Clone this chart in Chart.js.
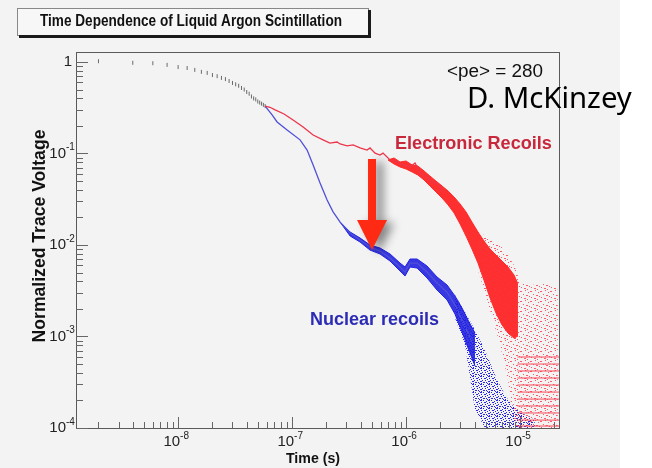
<!DOCTYPE html>
<html>
<head>
<meta charset="utf-8">
<script src="https://cdn.jsdelivr.net/npm/chart.js@4/dist/chart.umd.min.js"></script>
<style>
  html, body { margin: 0; padding: 0; background: #fff; }
  canvas { display: block; }
</style>
</head>
<body>
<canvas id="myChart" width="652" height="468"></canvas>
<script>
// shared early part (2 ns bins), both populations overlap here
const earlyTime = [2e-9, 4e-9, 6e-9, 8e-9, 1.0e-8, 1.2e-8, 1.4e-8, 1.6e-8, 1.8e-8, 2.0e-8, 2.2e-8, 2.4e-8, 2.6e-8, 2.8e-8,
                   3.0e-8, 3.2e-8, 3.4e-8, 3.6e-8, 3.8e-8, 4.0e-8, 4.2e-8, 4.4e-8, 4.6e-8, 4.8e-8, 5.0e-8, 5.2e-8, 5.4e-8, 5.6e-8, 5.8e-8];
const earlyVolt = [1.02, 0.98, 0.97, 0.93, 0.88, 0.86, 0.82, 0.78, 0.76, 0.72, 0.70, 0.67, 0.65, 0.62,
                   0.59, 0.57, 0.55, 0.52, 0.50, 0.47, 0.45, 0.42, 0.40, 0.39, 0.37, 0.36, 0.35, 0.34, 0.33];

// electronic recoils (red)
const erTime = [5.8e-8, 6.4e-8, 7.1e-8, 8.5e-8, 1.02e-7, 1.25e-7, 1.53e-7, 1.87e-7, 2.15e-7, 2.48e-7, 2.64e-7, 3.04e-7, 3.43e-7,
                3.95e-7, 4.55e-7, 4.83e-7, 5.35e-7, 5.91e-7, 6.28e-7, 7.24e-7, 8.34e-7, 9.42e-7, 1.084e-6, 1.2e-6, 1.33e-6,
                1.53e-6, 1.69e-6, 1.87e-6, 2.11e-6];
const erVolt = [0.33, 0.32, 0.30, 0.27, 0.232, 0.195, 0.159, 0.141, 0.130, 0.1336, 0.127, 0.121, 0.124,
                0.115, 0.109, 0.115, 0.101, 0.0963, 0.101, 0.0849, 0.0807, 0.0749, 0.0712, 0.0787, 0.0612,
                0.0554, 0.0489, 0.0476, 0.0380];
const erBandTime = [6.95e-7, 7.85e-7, 8.86e-7, 1.0e-6, 1.13e-6, 1.27e-6, 1.44e-6, 1.62e-6, 1.83e-6, 2.07e-6, 2.34e-6,
                    2.64e-6, 2.98e-6, 3.36e-6, 3.79e-6, 4.28e-6, 4.83e-6, 5.46e-6, 6.15e-6, 6.95e-6, 7.85e-6, 8.86e-6, 9.6e-6];
const erBandHigh = [0.0849, 0.0893, 0.0807, 0.0828, 0.0749, 0.073, 0.0644, 0.0568, 0.05, 0.0442, 0.0389, 0.0335,
                    0.0281, 0.0230, 0.0178, 0.01387, 0.01106, 0.00904, 0.00778, 0.00668, 0.00575, 0.0047, 0.00375];
const erBandLow = [0.0849, 0.0768, 0.0712, 0.0677, 0.0628, 0.0582, 0.0513, 0.0442, 0.038, 0.0326, 0.0274, 0.0224,
                   0.0170, 0.01254, 0.00904, 0.00635, 0.00414, 0.00264, 0.00181, 0.00134, 0.00109, 0.00096, 0.00101];
const erSpreadTime = [4.28e-6, 5.46e-6, 6.68e-6, 7.85e-6, 8.86e-6, 9.22e-6, 1.0e-5, 1.35e-5, 1.83e-5, 2.15e-5];
const erSpreadHigh = [0.0139, 0.0119, 0.0100, 0.00778, 0.0060, 0.00533, 0.00394, 0.00366, 0.00384, 0.00322];
const erSpreadLow = [0.00533, 0.00195, 0.00081, 0.000335, 0.0001, 0.0001, 0.0001, 0.0001, 0.0001, 0.0001];
// single photoelectron levels seen as rows at late times
const erLevels = [5.97e-4, 5.0e-4, 4.2e-4, 3.52e-4, 2.95e-4, 2.47e-4, 2.07e-4, 1.74e-4, 1.46e-4, 1.22e-4, 1.05e-4];
const erLevelTime = [1.0e-5, 1.1e-5, 1.2e-5, 1.32e-5, 1.45e-5, 1.6e-5, 1.75e-5, 1.92e-5, 2.1e-5];

// nuclear recoils (blue)
const nrTime = [5.8e-8, 6.68e-8, 7.39e-8, 9.04e-8, 1.175e-7, 1.355e-7, 1.53e-7, 1.76e-7, 2.03e-7, 2.29e-7, 2.64e-7, 3.23e-7,
                3.95e-7, 4.83e-7, 5.91e-7, 7.24e-7, 8.86e-7, 9.8e-7, 1.084e-6, 1.25e-6, 1.53e-6, 1.87e-6, 2.29e-6,
                2.69e-6, 3.10e-6, 3.50e-6, 4.03e-6];
const nrVolt = [0.33, 0.264, 0.221, 0.181, 0.141, 0.109, 0.0749, 0.0476, 0.031, 0.0230, 0.0178, 0.0135,
                0.01135, 0.0095, 0.0086, 0.0072, 0.00575, 0.00507, 0.00635, 0.00635, 0.00507, 0.00384, 0.00306,
                0.00221, 0.00151, 0.00109, 0.00075];
const nrBandTime = [2.64e-7, 3.23e-7, 3.95e-7, 4.83e-7, 5.91e-7, 7.24e-7, 8.86e-7, 9.8e-7, 1.084e-6, 1.25e-6, 1.53e-6,
                    1.87e-6, 2.29e-6, 2.69e-6, 3.10e-6, 3.50e-6, 4.03e-6];
const nrBandHigh = [0.0178, 0.01387, 0.01193, 0.0100, 0.00927, 0.00798, 0.00635, 0.00575, 0.00703, 0.00703, 0.00589,
                    0.00447, 0.00366, 0.00277, 0.00205, 0.00151, 0.00109];
const nrBandLow = [0.0178, 0.01254, 0.01078, 0.0088, 0.00798, 0.00668, 0.0052, 0.00458, 0.00575, 0.0056, 0.00436,
                   0.00322, 0.00251, 0.00176, 0.00112, 0.00075, 0.000476];
const nrSpreadTime = [2.69e-6, 3.29e-6, 4.03e-6, 4.93e-6, 6.04e-6, 7.38e-6, 8.5e-6, 1.0e-5, 1.35e-5];
const nrSpreadHigh = [0.00284, 0.00185, 0.00118, 0.00071, 0.00038, 0.00023, 0.000178, 0.00015, 0.000122];
const nrSpreadLow = [0.00159, 0.00081, 0.000157, 0.0001, 0.0001, 0.0001, 0.0001, 0.0001, 0.0001];

// axes
const yTicks = [1, 1e-1, 1e-2, 1e-3, 1e-4];
const yTickLabels = [["1", ""], ["10", "-1"], ["10", "-2"], ["10", "-3"], ["10", "-4"]];
const xTicks = [1e-8, 1e-7, 1e-6, 1e-5];
const xTickLabels = [["10", "-8"], ["10", "-7"], ["10", "-6"], ["10", "-5"]];

const pts = (xs, ys) => xs.map((x, i) => ({ x: x, y: ys[i] }));
const grid = (xs, ys) => ys.flatMap(y => xs.map(x => ({ x: x, y: y })));

const ctx = document.getElementById("myChart");
const c2d = ctx.getContext("2d");

function speckle(color, size, dots) {
  const t = document.createElement("canvas");
  t.width = size;
  t.height = size;
  const g = t.getContext("2d");
  g.fillStyle = color;
  dots.forEach(d => g.fillRect(d[0], d[1], d[2] || 1, 1));
  return c2d.createPattern(t, "repeat");
}
const pinkDots = speckle("rgba(255,50,70,0.8)", 10,
  [[0, 1, 2], [5, 0], [8, 2], [3, 4], [6, 5, 2], [1, 7], [9, 6], [4, 8, 2], [7, 9]]);
const blueDots = speckle("rgba(30,30,225,0.95)", 8,
  [[0, 0, 2], [3, 0], [6, 1], [1, 2], [4, 2, 2], [7, 3], [2, 4], [5, 4], [0, 5, 2], [3, 6, 2], [6, 6], [1, 7], [7, 7]]);

const FONT = '"Liberation Sans", Arial, Helvetica, sans-serif';

function fitSize(c, s, weight, family, width) {
  c.font = weight + " 20px " + family;
  return 20 * width / c.measureText(s).width;
}

function label(c, s, x, y, weight, family, width, color, align) {
  const size = fitSize(c, s, weight, family, width);
  c.font = weight + " " + size.toFixed(1) + "px " + family;
  c.fillStyle = color;
  c.textAlign = align || "left";
  c.textBaseline = "middle";
  c.fillText(s, x, y);
}

// fixed glyph size, squeezed horizontally to a width (the original title is condensed)
function squeezed(c, s, x, y, font, width, color) {
  c.save();
  c.font = font;
  const w = c.measureText(s).width;
  c.translate(x, y);
  c.scale(width / w, 1);
  c.fillStyle = color;
  c.textAlign = "left";
  c.textBaseline = "middle";
  c.fillText(s, 0, 0);
  c.restore();
}

const decor = {
  id: "decor",
  beforeDraw(chart) {
    const c = chart.ctx;
    c.save();
    c.fillStyle = "#ffffff";
    c.fillRect(0, 0, 652, 468);
    c.fillStyle = "#f3f3f3";
    c.fillRect(0, 0, 620, 468);
    c.restore();
  },
  afterDatasetsDraw(chart) {
    const c = chart.ctx, a = chart.chartArea, xs = chart.scales.x, ys = chart.scales.y;
    c.save();

    // frame
    c.strokeStyle = "#5a5a5a";
    c.lineWidth = 1;
    c.strokeRect(Math.round(a.left) + 0.5, Math.round(a.top) + 0.5,
      Math.round(a.right - a.left), Math.round(a.bottom - a.top));

    // ticks drawn inside the frame, ROOT style
    c.strokeStyle = "#666";
    for (let e = -4; e <= 0; e++) {
      for (let k = 1; k <= 9; k++) {
        const v = k * Math.pow(10, e);
        if (v < ys.min || v > ys.max) continue;
        const py = Math.round(ys.getPixelForValue(v)) + 0.5;
        c.beginPath();
        c.moveTo(a.left, py);
        c.lineTo(a.left + (k === 1 ? 12 : 7), py);
        c.stroke();
      }
    }
    for (let e = -9; e <= -5; e++) {
      for (let k = 1; k <= 9; k++) {
        const v = k * Math.pow(10, e);
        if (v < xs.min || v > xs.max) continue;
        const px = Math.round(xs.getPixelForValue(v)) + 0.5;
        c.beginPath();
        c.moveTo(px, a.bottom);
        c.lineTo(px, a.bottom - (k === 1 ? 11 : 6));
        c.stroke();
      }
    }

    // tick labels
    c.fillStyle = "#222";
    c.textBaseline = "middle";
    yTicks.forEach((v, i) => {
      const py = ys.getPixelForValue(v);
      const lab = yTickLabels[i];
      c.font = "15px " + FONT;
      c.textAlign = "right";
      if (lab[1] === "") {
        c.fillText(lab[0], 72, py);
      } else {
        c.fillText(lab[0], 66, py);
        c.font = "10px " + FONT;
        c.textAlign = "left";
        c.fillText(lab[1], 66, py - 6);
      }
    });
    xTicks.forEach((v, i) => {
      const px = xs.getPixelForValue(v);
      const lab = xTickLabels[i];
      c.font = "15px " + FONT;
      c.textAlign = "right";
      c.fillText(lab[0], px + 2, 442);
      c.font = "10px " + FONT;
      c.textAlign = "left";
      c.fillText(lab[1], px + 2, 436);
    });

    // axis titles
    label(c, "Time (s)", 313, 459, "bold", FONT, 54, "#111", "center");
    c.save();
    c.translate(40, 236);
    c.rotate(-Math.PI / 2);
    label(c, "Normalized Trace Voltage", 0, 0, "bold", FONT, 213, "#111", "center");
    c.restore();

    // annotations
    label(c, "<pe> = 280", 447, 72, "normal", FONT, 96, "#111", "left");
    label(c, "D. McKinzey", 467, 100, "normal", '"Comic Sans MS", "Noto Sans", sans-serif', 165, "#000", "left");
    label(c, "Electronic Recoils", 395, 144, "bold", FONT, 157, "#c8283c", "left");
    label(c, "Nuclear recoils", 310, 320, "bold", FONT, 129, "#2b2bb5", "left");

    // arrow pointing from the red to the blue population
    const ax = xs.getPixelForValue(5.03e-7);
    const aTop = ys.getPixelForValue(0.087);
    const aBase = ys.getPixelForValue(0.0188);
    const aTip = ys.getPixelForValue(0.0088);
    c.save();
    c.shadowColor = "rgba(0,0,0,0.45)";
    c.shadowBlur = 10;
    c.shadowOffsetX = 7;
    c.shadowOffsetY = 3;
    c.fillStyle = "#ff2a14";
    c.beginPath();
    c.moveTo(ax - 4, aTop);
    c.lineTo(ax + 4, aTop);
    c.lineTo(ax + 4, aBase);
    c.lineTo(ax + 15, aBase);
    c.lineTo(ax, aTip);
    c.lineTo(ax - 15, aBase);
    c.lineTo(ax - 4, aBase);
    c.closePath();
    c.fill();
    c.restore();

    // title box with ROOT shadow
    c.fillStyle = "#f7f7f7";
    c.fillRect(17, 8, 351, 27);
    c.strokeStyle = "#888";
    c.lineWidth = 1;
    c.strokeRect(17.5, 8.5, 351, 27);
    c.fillStyle = "#1a1a1a";
    c.fillRect(368, 10, 3, 28);
    c.fillRect(19, 35, 352, 3);
    squeezed(c, "Time Dependence of Liquid Argon Scintillation", 40, 21, "bold 17px " + FONT, 302, "#111");

    c.restore();
  }
};

const line = (data, color, width) => ({
  data: data, showLine: true, borderColor: color, borderWidth: width,
  pointRadius: 0, fill: false, tension: 0
});
const bandTop = (data, color) => ({
  data: data, showLine: true, borderColor: color, borderWidth: 1, pointRadius: 0, fill: false
});
const bandBottom = (data, color, bg) => ({
  data: data, showLine: true, borderColor: color, borderWidth: 1, pointRadius: 0,
  fill: "-1", backgroundColor: bg
});

new Chart(ctx, {
  type: "scatter",
  data: {
    datasets: [
      bandTop(pts(erSpreadTime, erSpreadHigh), "rgba(0,0,0,0)"),
      bandBottom(pts(erSpreadTime, erSpreadLow), "rgba(0,0,0,0)", pinkDots),
      {
        data: grid(erLevelTime, erLevels), pointStyle: "line", pointRadius: 2.5,
        borderColor: "rgba(255,40,60,0.8)", borderWidth: 1, showLine: false
      },
      line(pts(erTime, erVolt), "#ec364a", 1.3),
      bandTop(pts(erBandTime, erBandHigh), "#ff2a2a"),
      bandBottom(pts(erBandTime, erBandLow), "#ff2a2a", "rgba(255,30,30,0.92)"),
      bandTop(pts(nrSpreadTime, nrSpreadHigh), "rgba(0,0,0,0)"),
      bandBottom(pts(nrSpreadTime, nrSpreadLow), "rgba(0,0,0,0)", blueDots),
      line(pts(nrTime, nrVolt), "#5050d8", 1.3),
      bandTop(pts(nrBandTime, nrBandHigh), "#2424e0"),
      bandBottom(pts(nrBandTime, nrBandLow), "#2424e0", "rgba(36,36,224,0.9)"),
      {
        data: pts(earlyTime, earlyVolt), pointStyle: "line", rotation: 90, pointRadius: 2,
        borderColor: "#6a6a6a", borderWidth: 1, showLine: false
      }
    ]
  },
  options: {
    responsive: false,
    animation: false,
    devicePixelRatio: 1,
    events: [],
    layout: { padding: { left: 76, right: 93, top: 52, bottom: 40 } },
    scales: {
      x: { type: "logarithmic", min: 1.27e-9, max: 2.2e-5, display: false },
      y: { type: "logarithmic", min: 1e-4, max: 1.286, display: false }
    },
    plugins: { legend: { display: false }, tooltip: { enabled: false } }
  },
  plugins: [decor]
});
</script>
</body>
</html>
